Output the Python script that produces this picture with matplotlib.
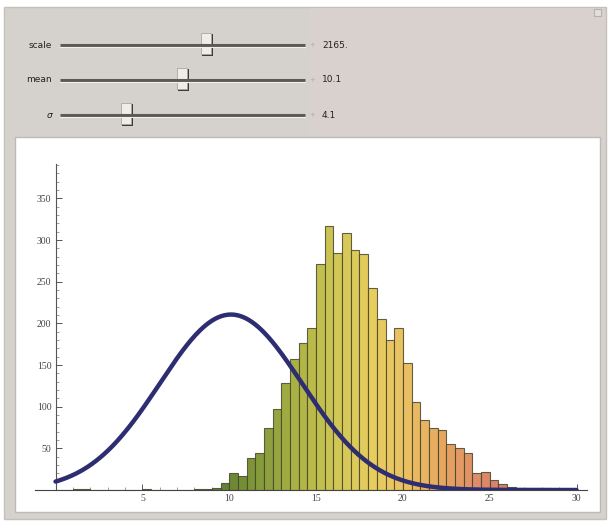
import numpy as np
import matplotlib
matplotlib.use("Agg")
import matplotlib.pyplot as plt
from matplotlib.colors import LinearSegmentedColormap
from matplotlib.patches import Rectangle

# slider settings shown in the panel
slider_names = ["scale", "mean", "σ"]
slider_values = ["2165.", "10.1", "4.1"]
scale = 2165.0
mean = 10.1
sigma = 4.1

# histogram counts, bins of width 0.5 from 0 to 30
bin_width = 0.5
counts = [0, 0, 1, 1, 0, 0, 0, 0, 0, 0,
          1, 0, 0, 0, 0, 0, 1, 1, 2, 8,
          20, 17, 39, 44, 75, 97, 129, 157, 176, 194,
          271, 317, 285, 309, 288, 283, 242, 205, 180, 195,
          152, 106, 84, 75, 72, 55, 50, 44, 20, 22,
          12, 7, 4, 3, 2, 2, 2, 1, 1, 1]

x_ticks = [5, 10, 15, 20, 25, 30]
y_ticks = [50, 100, 150, 200, 250, 300, 350]

W, H = 611, 522
fig = plt.figure(figsize=(W / 100, H / 100), dpi=100)
fig.patch.set_facecolor("white")

# background "frame" drawn in pixel coords
bg = fig.add_axes([0, 0, 1, 1], zorder=0)
bg.set_xlim(0, W)
bg.set_ylim(H, 0)
bg.axis("off")

bg.add_patch(Rectangle((4, 7), 602, 512, facecolor="#d5d2cd", edgecolor="#c4c1bc", lw=1))
bg.add_patch(Rectangle((310, 8), 295, 128, facecolor="#d8d1cd", edgecolor="none"))
bg.add_patch(Rectangle((15, 137), 585, 375, facecolor="white", edgecolor="#bdbab5", lw=1))
bg.add_patch(Rectangle((594, 9), 7, 7, facecolor="#e2e0dc", edgecolor="#b5b2ad", lw=0.8))

# sliders
rows_y = [45, 80, 115]
thumbs_x = [207, 183, 127]
for name, val, yy, tx in zip(slider_names, slider_values, rows_y, thumbs_x):
    bg.plot([60, 305], [yy, yy], color="#5c5a56", lw=2.2, solid_capstyle="butt")
    bg.plot([60, 305], [yy + 1.5, yy + 1.5], color="#f2f1ee", lw=0.8)
    bg.add_patch(Rectangle((tx - 5, yy - 11), 11, 22, facecolor="#3e3c39", edgecolor="none"))
    bg.add_patch(Rectangle((tx - 6, yy - 12), 10, 21, facecolor="#eeede9", edgecolor="#a9a7a2", lw=0.6))
    bg.text(312, yy, "+", fontsize=5, color="#b0aea9", ha="center", va="center")
    bg.text(322, yy, val, fontsize=6.5, color="#222222", ha="left", va="center")
    style = "italic" if name == "σ" else "normal"
    bg.text(52, yy, name, fontsize=6.5, color="#222222", ha="right", va="center", style=style)

# main plot
ax = fig.add_axes([34.7 / W, 32 / H, (587 - 34.7) / W, (490 - 163.5) / H], zorder=1)
ax.patch.set_alpha(0)
ax.set_xlim(-1.2, 30.6)
ax.set_ylim(0, 392)

cmap = LinearSegmentedColormap.from_list("hist", [
    (0.00, (98/255, 128/255, 48/255)),
    (0.15, (138/255, 158/255, 60/255)),
    (0.28, (178/255, 182/255, 70/255)),
    (0.40, (210/255, 200/255, 85/255)),
    (0.52, (232/255, 204/255, 95/255)),
    (0.64, (234/255, 190/255, 98/255)),
    (0.76, (230/255, 165/255, 95/255)),
    (0.88, (222/255, 138/255, 105/255)),
    (1.00, (215/255, 118/255, 108/255)),
])

bin_starts = np.arange(len(counts)) * bin_width
centers = bin_starts + bin_width / 2
colors = cmap(np.clip((centers - 9.5) / 17.0, 0, 1))
ax.bar(bin_starts, counts, width=bin_width, align="edge", color=colors,
       edgecolor=(0.28, 0.28, 0.18, 0.85), linewidth=0.8, zorder=2)

xs = np.linspace(0, 30, 500)
curve = scale * np.exp(-(xs - mean) ** 2 / (2 * sigma ** 2)) / (sigma * np.sqrt(2 * np.pi))
ax.plot(xs, curve, color="#2f2d72", lw=3.2, zorder=3, solid_capstyle="round")

for s in ["top", "right"]:
    ax.spines[s].set_visible(False)
ax.spines["left"].set_position(("data", 0))
ax.spines["left"].set_color("#555555")
ax.spines["bottom"].set_color("#444444")
ax.spines["left"].set_linewidth(0.8)
ax.spines["bottom"].set_linewidth(0.8)

ax.set_xticks(x_ticks)
ax.set_xticks(np.arange(1, 31, 1), minor=True)
ax.set_yticks(y_ticks)
ax.set_yticks(np.arange(10, 391, 10), minor=True)
ax.set_xticklabels([str(t) for t in x_ticks])
ax.set_yticklabels([str(t) for t in y_ticks])
ax.tick_params(axis="both", which="major", direction="in", length=4, width=0.7,
               color="#555555", labelsize=7, labelcolor="#444444", pad=3)
ax.tick_params(axis="both", which="minor", direction="in", length=2, width=0.5, color="#777777")
for lab in ax.get_xticklabels() + ax.get_yticklabels():
    lab.set_family("Liberation Serif")

fig.savefig("out.png", dpi=100)
